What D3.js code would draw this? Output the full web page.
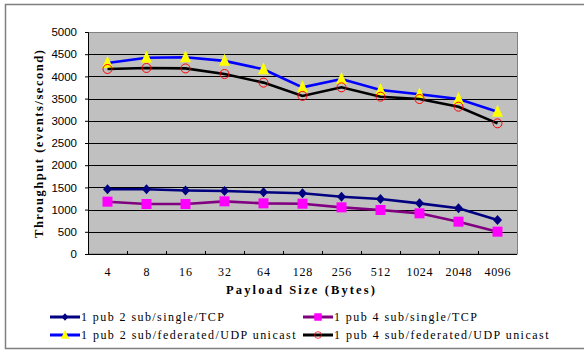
<!DOCTYPE html>
<html>
<head>
<meta charset="utf-8">
<script src="https://cdn.jsdelivr.net/npm/d3@7"></script>
<style>
  html, body { margin: 0; padding: 0; background: #fff; overflow: hidden; }
  svg { display: block; }
</style>
</head>
<body>
<svg width="585" height="352"></svg>
<script>
const sizes = ['4', '8', '16', '32', '64', '128', '256', '512', '1024', '2048', '4096']
const yTicks = [0, 500, 1000, 1500, 2000, 2500, 3000, 3500, 4000, 4500, 5000]

const pub2Single = [1457, 1457, 1430, 1420, 1390, 1367, 1291, 1239, 1141, 1029, 766]
const pub4Single = [1178, 1126, 1126, 1186, 1141, 1133, 1051, 991, 916, 728, 503]
const pub2Fed = [4300, 4420, 4430, 4350, 4160, 3754, 3941, 3694, 3597, 3490, 3205]
const pub4Fed = [4167, 4190, 4180, 4054, 3860, 3560, 3754, 3543, 3490, 3318, 2943]

const seriesNames = [
  '1 pub 2 sub/single/TCP',
  '1 pub 4 sub/single/TCP',
  '1 pub 2 sub/federated/UDP unicast',
  '1 pub 4 sub/federated/UDP unicast'
]

const svg = d3.select('svg')
const width = +svg.attr('width')
const height = +svg.attr('height')
const margin = { top: 32, right: 68, bottom: 98, left: 88 }
const innerWidth = width - margin.left - margin.right
const innerHeight = height - margin.top - margin.bottom

const serifFont = "'Liberation Serif', 'DejaVu Serif', serif"
const charW = 6.5 // reference glyphs are fixed width

// outer frame, open on the right like the reference
svg.append('path')
  .attr('d', `M${width - 1},4.5H5.5V348.5H${width - 1}`)
  .attr('fill', 'none')
  .attr('stroke', '#7f7f7f')
  .attr('stroke-width', 1.5)

const series = [
  { name: seriesNames[0], values: pub2Single, line: '#000080', marker: 'diamond', fill: '#000080', stroke: 'none' },
  { name: seriesNames[1], values: pub4Single, line: '#800080', marker: 'square', fill: '#ff00ff', stroke: 'none' },
  { name: seriesNames[2], values: pub2Fed, line: '#0000ff', marker: 'triangle', fill: '#ffff00', stroke: 'none' },
  { name: seriesNames[3], values: pub4Fed, line: '#000000', marker: 'circle', fill: 'none', stroke: '#ff0000' }
]

const xScale = d3.scaleBand()
  .domain(sizes)
  .range([0, innerWidth])

const yScale = d3.scaleLinear()
  .domain([0, 5000])
  .range([innerHeight, 0])

const g = svg.append('g')
  .attr('transform', `translate(${margin.left},${margin.top})`)

g.append('rect')
  .attr('width', innerWidth)
  .attr('height', innerHeight)
  .attr('fill', '#c0c0c0')

// gridlines
g.append('g')
  .selectAll('line').data(yTicks.filter(d => d > 0 && d < 5000))
  .enter().append('line')
  .attr('x1', 0).attr('x2', innerWidth)
  .attr('y1', d => Math.round(yScale(d)) + 0.5)
  .attr('y2', d => Math.round(yScale(d)) + 0.5)
  .attr('stroke', '#000')
  .attr('stroke-width', 1)

g.append('rect')
  .attr('x', 0.5).attr('y', 0.5)
  .attr('width', innerWidth).attr('height', innerHeight - 0.5)
  .attr('fill', 'none')
  .attr('stroke', '#808080')

// y axis
const yAxis = d3.axisLeft(yScale)
  .tickValues(yTicks)
  .tickFormat(d3.format('d'))
  .tickSize(3)
  .tickPadding(8)
const yAxisGroup = g.append('g').call(yAxis)
yAxisGroup.select('.domain').attr('stroke', '#000')
yAxisGroup.selectAll('.tick text')
  .style('font-family', "'Liberation Sans', Arial, sans-serif")
  .style('font-size', '11.5px')
  .attr('fill', '#000')

// x axis: ticks at band edges, pointing up
const xAxisGroup = g.append('g')
  .attr('transform', `translate(0,${innerHeight})`)
xAxisGroup.append('line')
  .attr('x1', 0).attr('x2', innerWidth)
  .attr('y1', 0.5).attr('y2', 0.5)
  .attr('stroke', '#000')
xAxisGroup.selectAll('.edge').data(sizes.slice(1))
  .enter().append('line')
  .attr('class', 'edge')
  .attr('x1', d => Math.round(xScale(d)) + 0.5)
  .attr('x2', d => Math.round(xScale(d)) + 0.5)
  .attr('y1', 0).attr('y2', -3)
  .attr('stroke', '#000')
xAxisGroup.selectAll('.lbl').data(sizes)
  .enter().append('text')
  .attr('class', 'lbl')
  .attr('x', d => xScale(d) + xScale.bandwidth() / 2)
  .attr('y', 22)
  .attr('text-anchor', 'middle')
  .attr('textLength', d => d.length * charW)
  .attr('lengthAdjust', 'spacing')
  .style('font-family', serifFont)
  .style('font-size', '12px')
  .text(d => d)

g.append('text')
  .attr('x', innerWidth / 2 - 2)
  .attr('y', innerHeight + 40)
  .attr('text-anchor', 'middle')
  .attr('textLength', 149)
  .attr('lengthAdjust', 'spacing')
  .style('font-family', serifFont)
  .style('font-weight', 'bold')
  .style('font-size', '12.5px')
  .text('Payload Size (Bytes)')

svg.append('text')
  .attr('transform', `translate(43,${144}) rotate(-90)`)
  .attr('text-anchor', 'middle')
  .attr('textLength', 188)
  .attr('lengthAdjust', 'spacing')
  .style('font-family', serifFont)
  .style('font-weight', 'bold')
  .style('font-size', '12.5px')
  .text('Throughput  (events/second)')

const cx = (d, i) => xScale(sizes[i]) + xScale.bandwidth() / 2

const line = d3.line()
  .x((d, i) => cx(d, i))
  .y(d => yScale(d))

const drawMarker = (sel, s) => {
  if (s.marker === 'diamond') {
    sel.append('path').attr('d', 'M0,-5L4.5,0L0,5L-4.5,0Z')
      .attr('fill', s.fill)
  } else if (s.marker === 'square') {
    sel.append('rect').attr('x', -5).attr('y', -5).attr('width', 10).attr('height', 10)
      .attr('fill', s.fill)
  } else if (s.marker === 'triangle') {
    sel.append('path').attr('d', 'M0,-7L5.5,5L-5.5,5Z')
      .attr('fill', s.fill)
  } else {
    sel.append('circle').attr('r', 4.5)
      .attr('fill', 'none').attr('stroke', s.stroke).attr('stroke-width', 1)
  }
}

series.forEach(s => {
  g.append('path')
    .datum(s.values)
    .attr('d', line)
    .attr('fill', 'none')
    .attr('stroke', s.line)
    .attr('stroke-width', 2.6)
  g.selectAll(null).data(s.values)
    .enter().append('g')
    .attr('transform', (d, i) => `translate(${cx(d, i)},${yScale(d)})`)
    .each(function () { drawMarker(d3.select(this), s) })
})

// legend
const legendPos = [
  { x: 50, y: 317 },
  { x: 303, y: 317 },
  { x: 50, y: 335 },
  { x: 303, y: 335 }
]
series.forEach((s, i) => {
  const lg = svg.append('g')
    .attr('transform', `translate(${legendPos[i].x},${legendPos[i].y})`)
  lg.append('line')
    .attr('x1', 0).attr('x2', 30)
    .attr('stroke', s.line)
    .attr('stroke-width', 3)
  const m = lg.append('g').attr('transform', 'translate(15,0) scale(0.75)')
  drawMarker(m, s)
  lg.append('text')
    .attr('x', 31)
    .attr('y', 4)
    .attr('textLength', s.name.length * charW)
    .attr('lengthAdjust', 'spacing')
    .style('font-family', serifFont)
    .style('font-size', '12px')
    .text(s.name)
})
</script>
</body>
</html>
